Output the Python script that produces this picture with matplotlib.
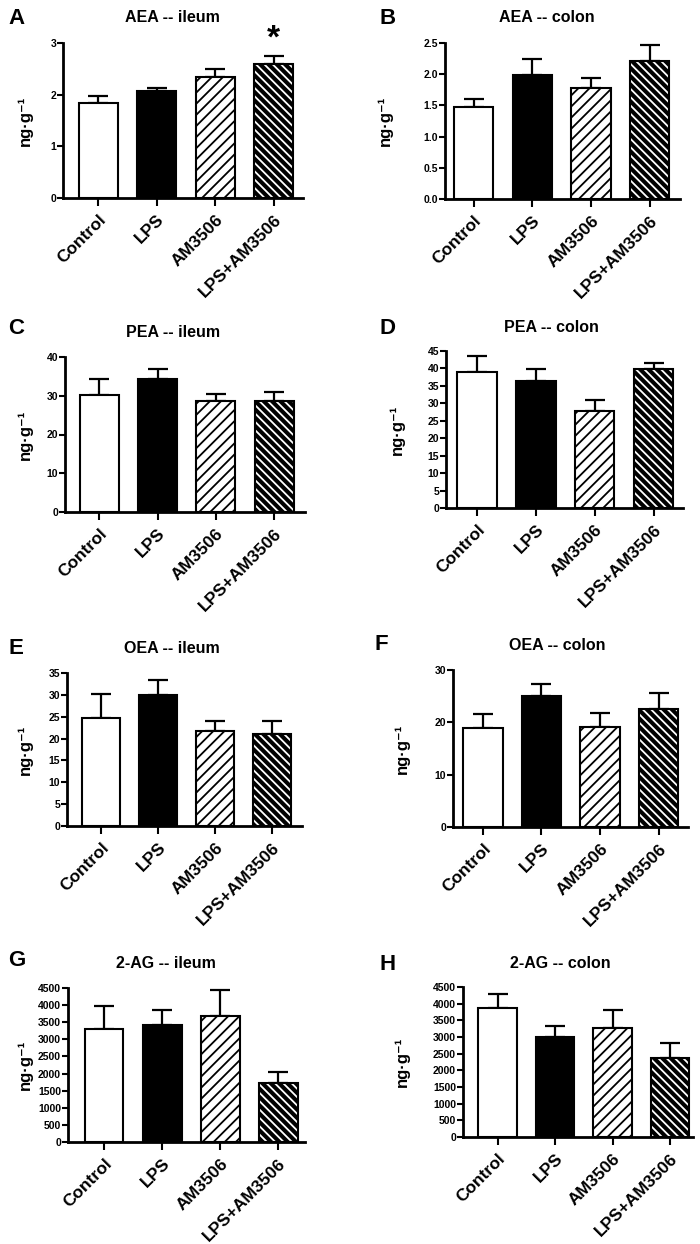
import matplotlib
matplotlib.use("Agg")
import matplotlib.pyplot as plt
import numpy as np

plt.rcParams["font.family"] = ["Liberation Sans", "DejaVu Sans"]
plt.rcParams["font.weight"] = "bold"
plt.rcParams["hatch.linewidth"] = 1.3

GROUPS = ["Control", "LPS", "AM3506", "LPS+AM3506"]

# mean and upper SEM per panel
AEA_ILEUM = [1.84, 2.08, 2.34, 2.60]
AEA_ILEUM_ERR = [0.13, 0.05, 0.15, 0.15]
AEA_COLON = [1.47, 1.98, 1.78, 2.21]
AEA_COLON_ERR = [0.13, 0.26, 0.16, 0.25]
PEA_ILEUM = [30.2, 34.2, 28.6, 28.6]
PEA_ILEUM_ERR = [4.0, 2.8, 1.9, 2.4]
PEA_COLON = [38.9, 36.4, 27.9, 39.9]
PEA_COLON_ERR = [4.6, 3.5, 3.1, 1.6]
OEA_ILEUM = [24.7, 30.0, 21.7, 21.1]
OEA_ILEUM_ERR = [5.5, 3.4, 2.4, 3.0]
OEA_COLON = [19.0, 25.1, 19.2, 22.5]
OEA_COLON_ERR = [2.6, 2.2, 2.6, 3.2]
AG_ILEUM = [3300, 3410, 3670, 1725]
AG_ILEUM_ERR = [665, 460, 760, 330]
AG_COLON = [3875, 2990, 3260, 2360]
AG_COLON_ERR = [430, 350, 565, 470]

W, H = 700, 1244

# letter, title, values, errors, yticks, tick format, box (l, r, t, b px),
# xlim, ylabel x px, letter pos, title pos
PANELS = [
    ("A", "AEA -- ileum", AEA_ILEUM, AEA_ILEUM_ERR, [0, 1, 2, 3], None,
     (63, 303, 43, 198), (-0.6, 3.5), 33, (8, 18), (172, 18)),
    ("B", "AEA -- colon", AEA_COLON, AEA_COLON_ERR,
     [0, 0.5, 1.0, 1.5, 2.0, 2.5], "{:.1f}",
     (445, 680, 43, 199), (-0.49, 3.52), 393, (379, 18), (547, 18)),
    ("C", "PEA -- ileum", PEA_ILEUM, PEA_ILEUM_ERR, [0, 10, 20, 30, 40], None,
     (65, 305, 357, 512), (-0.59, 3.53), 33, (8, 328), (173, 333)),
    ("D", "PEA -- colon", PEA_COLON, PEA_COLON_ERR, list(range(0, 46, 5)), None,
     (446, 683, 351, 508), (-0.53, 3.5), 405, (380, 328), (551, 327)),
    ("E", "OEA -- ileum", OEA_ILEUM, OEA_ILEUM_ERR, list(range(0, 36, 5)), None,
     (67, 302, 673, 826), (-0.6, 3.53), 33, (8, 648), (172, 649)),
    ("F", "OEA -- colon", OEA_COLON, OEA_COLON_ERR, [0, 10, 20, 30], None,
     (453, 688, 670, 827), (-0.51, 3.5), 410, (375, 645), (557, 645)),
    ("G", "2-AG -- ileum", AG_ILEUM, AG_ILEUM_ERR, list(range(0, 4501, 500)), None,
     (68, 305, 988, 1142), (-0.62, 3.46), 33, (8, 960), (166, 963)),
    ("H", "2-AG -- colon", AG_COLON, AG_COLON_ERR, list(range(0, 4501, 500)), None,
     (463, 693, 987, 1137), (-0.6, 3.4), 410, (380, 965), (560, 963)),
]

fig = plt.figure(figsize=(7, 12.44), dpi=100)
x = np.arange(len(GROUPS))
bw = 0.67

for (letter, title, vals, errs, yticks, fmt, box, xlim, ylx, lpos, tpos) in PANELS:
    l, r, t, b = box
    ax = fig.add_axes([l / W, 1 - b / H, (r - l) / W, (b - t) / H])
    ax.errorbar(x, vals, yerr=[np.zeros(4), errs], fmt="none", ecolor="black",
                elinewidth=1.6, capsize=7, capthick=1.6, zorder=1)
    ax.bar(x[0], vals[0], bw, color="white", edgecolor="black", lw=1.5, zorder=2)
    ax.bar(x[1], vals[1], bw, color="black", edgecolor="black", lw=1.5, zorder=2)
    ax.bar(x[2], vals[2], bw, color="white", edgecolor="black", lw=1.5,
           hatch="///", zorder=2)
    # black bar with white stripes
    ax.bar(x[3], vals[3], bw, color="black", edgecolor="black", lw=0, zorder=2)
    ax.bar(x[3], vals[3], bw, color="none", edgecolor="white", lw=0,
           hatch="\\\\\\\\", zorder=3)
    ax.bar(x[3], vals[3], bw, color="none", edgecolor="black", lw=1.5, zorder=4)

    ax.set_xlim(*xlim)
    ax.set_ylim(0, yticks[-1])
    ax.set_yticks(yticks)
    if fmt:
        ax.set_yticklabels([fmt.format(v) for v in yticks])
    ax.set_xticks(x)
    ax.set_xticklabels(GROUPS, rotation=45, ha="right", rotation_mode="anchor",
                       fontsize=12.5, fontweight="bold")
    ax.tick_params(axis="y", labelsize=7.5, length=4, width=1.5, pad=1)
    ax.tick_params(axis="x", length=6, width=1.5, pad=4)
    for s in ("top", "right"):
        ax.spines[s].set_visible(False)
    for s in ("left", "bottom"):
        ax.spines[s].set_linewidth(2)
    ax.set_ylabel("ng·g\u207b\u00b9", fontsize=12, fontweight="bold")
    ax.yaxis.set_label_coords((ylx - l) / (r - l), 0.5)

    fig.text(lpos[0] / W, 1 - lpos[1] / H, letter, fontsize=16,
             fontweight="bold", ha="left", va="center")
    fig.text(tpos[0] / W, 1 - tpos[1] / H, title, fontsize=11.5,
             fontweight="bold", ha="center", va="center")

    if letter == "A":
        ax.text(x[3], vals[3] + errs[3] + 0.02, "*", fontsize=24,
                fontweight="bold", ha="center", va="bottom", clip_on=False)

fig.savefig("out.png", dpi=100)
